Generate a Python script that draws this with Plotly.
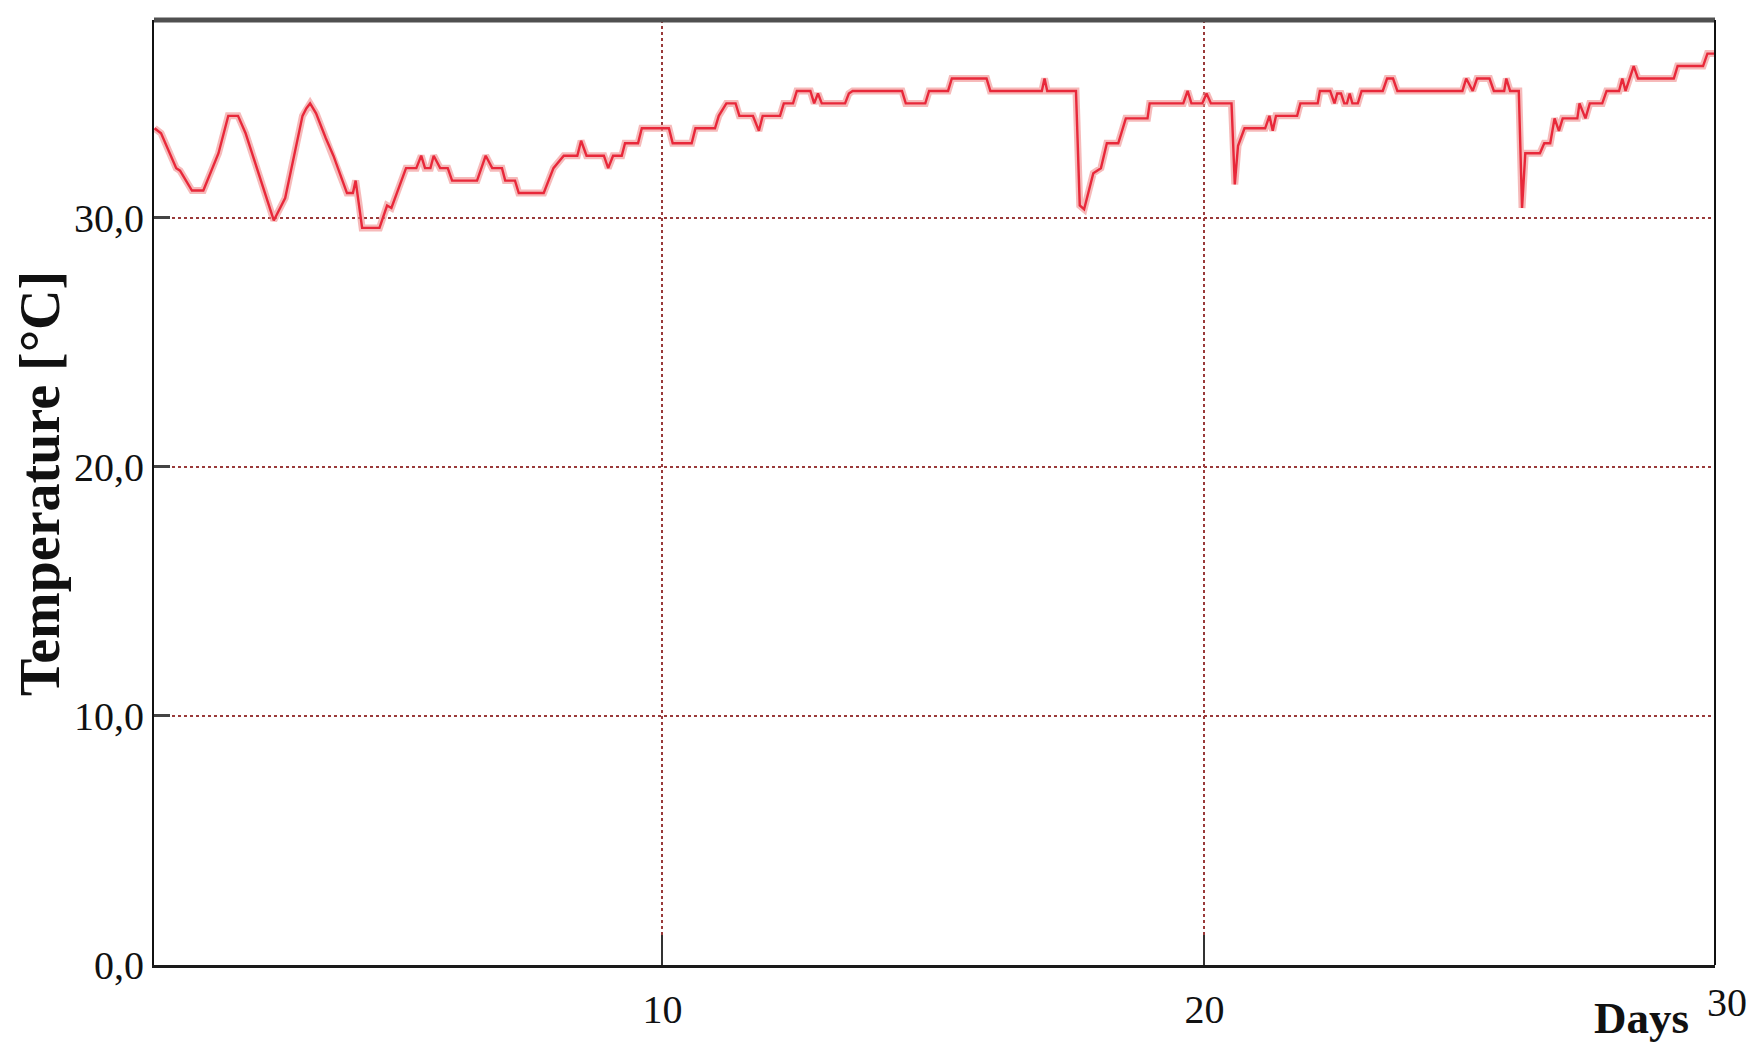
import plotly.graph_objects as go

# Temperature series (day, °C)
days = [0.63, 0.75, 1.03, 1.10, 1.32, 1.53, 1.81, 1.99, 2.17, 2.31, 2.83, 3.04, 3.36, 3.43, 3.50, 3.61,
        3.79, 3.93, 4.18, 4.29, 4.34, 4.40, 4.46, 4.78, 4.92, 5.00, 5.27, 5.46, 5.55, 5.62, 5.72, 5.78,
        5.90, 6.04, 6.12, 6.58, 6.74, 6.86, 7.04, 7.10, 7.28, 7.35, 7.81, 7.99, 8.18, 8.43, 8.50, 8.60,
        8.92, 9.00, 9.09, 9.25, 9.31, 9.55, 9.62, 10.12, 10.19, 10.54, 10.61, 10.97, 11.04, 11.18, 11.35,
        11.42, 11.67, 11.78, 11.85, 12.17, 12.24, 12.41, 12.48, 12.73, 12.80, 12.87, 12.94, 13.37, 13.44,
        13.51, 14.42, 14.49, 14.85, 14.92, 15.27, 15.34, 15.98, 16.05, 17.00, 17.05, 17.10, 17.63, 17.70,
        17.78, 17.95, 18.09, 18.20, 18.41, 18.55, 18.95, 18.99, 19.61, 19.69, 19.76, 19.96, 20.04, 20.12,
        20.50, 20.56, 20.62, 20.74, 21.12, 21.20, 21.26, 21.32, 21.71, 21.77, 22.09, 22.13, 22.32, 22.40,
        22.45, 22.52, 22.58, 22.63, 22.68, 22.73, 22.83, 22.90, 23.29, 23.37, 23.48, 23.56, 24.76, 24.83,
        24.95, 25.03, 25.26, 25.34, 25.53, 25.57, 25.64, 25.80, 25.86, 25.92, 26.19, 26.27, 26.38, 26.46,
        26.54, 26.61, 26.88, 26.92, 27.03, 27.11, 27.34, 27.42, 27.65, 27.71, 27.77, 27.92, 28.00, 28.66,
        28.73, 28.85, 29.20, 29.28, 29.42]
temps = [33.6, 33.4, 32.0, 31.9, 31.1, 31.1, 32.6, 34.1, 34.1, 33.4, 29.9, 30.8, 34.1, 34.4, 34.6, 34.2,
         33.2, 32.5, 31.0, 31.0, 31.5, 30.6, 29.6, 29.6, 30.5, 30.4, 32.0, 32.0, 32.5, 32.0, 32.0, 32.5,
         32.0, 32.0, 31.5, 31.5, 32.5, 32.0, 32.0, 31.5, 31.5, 31.0, 31.0, 32.0, 32.5, 32.5, 33.1, 32.5,
         32.5, 32.0, 32.5, 32.5, 33.0, 33.0, 33.6, 33.6, 33.0, 33.0, 33.6, 33.6, 34.1, 34.6, 34.6,
         34.1, 34.1, 33.5, 34.1, 34.1, 34.6, 34.6, 35.1, 35.1, 34.6, 35.0, 34.6, 34.6, 35.0,
         35.1, 35.1, 34.6, 34.6, 35.1, 35.1, 35.6, 35.6, 35.1, 35.1, 35.6, 35.1, 35.1, 30.5,
         30.35, 31.8, 32.0, 33.0, 33.0, 34.0, 34.0, 34.6, 34.6, 35.1, 34.6, 34.6, 35.0, 34.6,
         34.6, 31.35, 32.9, 33.6, 33.6, 34.1, 33.5, 34.1, 34.1, 34.6, 34.6, 35.1, 35.1, 34.6,
         35.0, 35.0, 34.6, 34.6, 35.0, 34.6, 34.6, 35.1, 35.1, 35.6, 35.6, 35.1, 35.1, 35.6,
         35.1, 35.6, 35.6, 35.1, 35.1, 35.6, 35.1, 35.1, 30.4, 32.6, 32.6, 33.0, 33.0, 34.0,
         33.5, 34.0, 34.0, 34.6, 34.0, 34.6, 34.6, 35.1, 35.1, 35.6, 35.1, 36.1, 35.6, 35.6,
         36.1, 36.1, 36.1, 36.6, 36.6]

x_tick_vals = [10, 20]
x_tick_text = ["10", "20"]
y_tick_vals = [0, 10, 20, 30]
y_tick_text = ["0,0", "10,0", "20,0", "30,0"]

x_range = [0.62, 29.42]
y_range = [0, 37.95]

serif = "Liberation Serif, Times New Roman, serif"
tick_font = dict(family=serif, size=40, color="#111111")
grid_color = "#9a3a3a"

fig = go.Figure()
fig.add_trace(go.Scatter(x=days, y=temps, mode="lines",
                         line=dict(color="rgba(240,140,140,0.6)", width=7),
                         hoverinfo="skip", showlegend=False))
fig.add_trace(go.Scatter(x=days, y=temps, mode="lines",
                         line=dict(color="#e8283a", width=2.4),
                         showlegend=False))

fig.update_layout(
    width=1749, height=1053,
    margin=dict(l=146, r=42, t=12, b=96),
    paper_bgcolor="white", plot_bgcolor="white",
    xaxis=dict(range=x_range, tickvals=x_tick_vals, ticktext=x_tick_text,
               showgrid=True, gridcolor=grid_color, griddash="dot", gridwidth=2,
               showline=True, linecolor="#1a1a1a", linewidth=3,
               ticks="inside", ticklen=30, tickwidth=2, tickcolor="#333333",
               tickfont=tick_font, ticklabelstandoff=7, zeroline=False,
               automargin=False),
    yaxis=dict(range=y_range, tickvals=y_tick_vals, ticktext=y_tick_text,
               showgrid=True, gridcolor=grid_color, griddash="dot", gridwidth=2,
               showline=True, linecolor="#111111", linewidth=2,
               ticks="inside", ticklen=16, tickwidth=3, tickcolor="#444444",
               tickfont=tick_font, ticklabelstandoff=0, zeroline=False,
               automargin=False),
    shapes=[
        dict(type="line", xref="paper", yref="paper", x0=0, x1=1, y0=1, y1=1,
             line=dict(color="#505050", width=5)),
        dict(type="line", xref="paper", yref="paper", x0=1, x1=1, y0=0, y1=1,
             line=dict(color="#111111", width=2)),
    ],
    annotations=[
        dict(text="<b>Temperature [°C]</b>", xref="paper", yref="paper",
             x=-0.073, y=0.509, xanchor="center", yanchor="middle", textangle=-90,
             showarrow=False, font=dict(family=serif, size=56, color="#111111")),
        dict(text="<b>Days</b>", xref="paper", yref="paper",
             x=0.953, y=-0.056, xanchor="center", yanchor="middle",
             showarrow=False, font=dict(family=serif, size=45, color="#111111")),
        dict(text="30", xref="paper", yref="paper",
             x=1.008, y=-0.040, xanchor="center", yanchor="middle",
             showarrow=False, font=tick_font),
    ],
)

fig.write_html("out.html")
